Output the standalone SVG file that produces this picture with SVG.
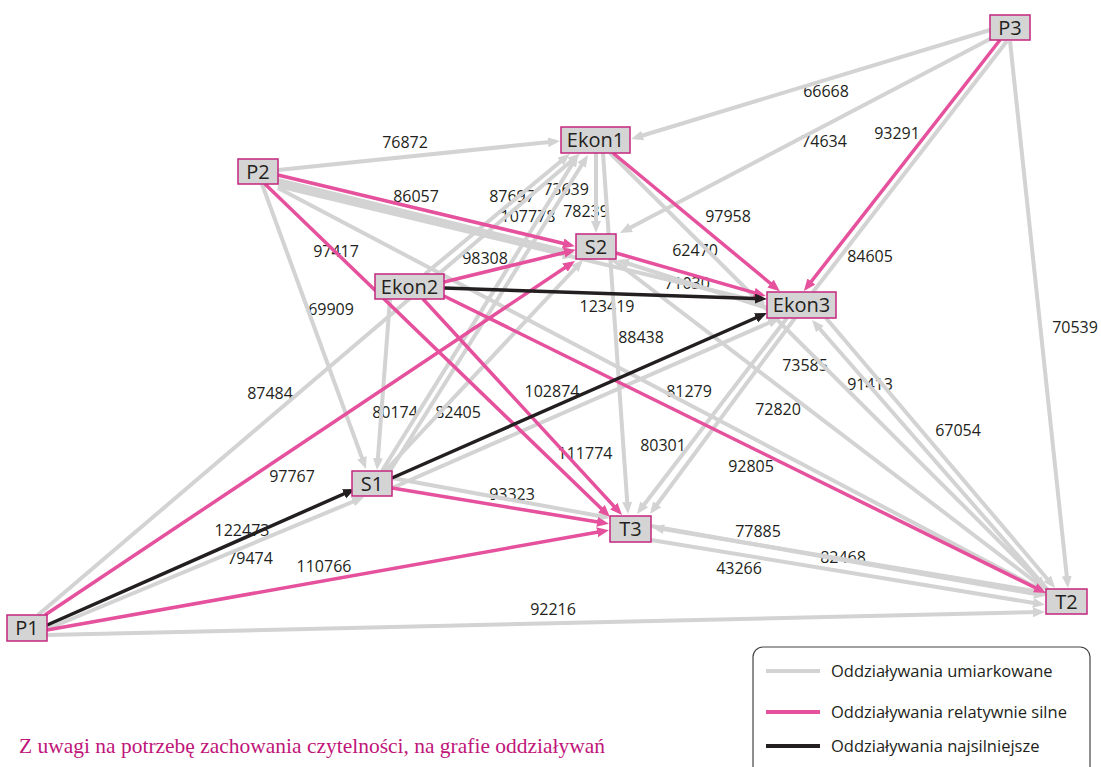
<svg xmlns="http://www.w3.org/2000/svg" width="1101" height="767" viewBox="0 0 1101 767">
<style>
.g{stroke:#d3d3d3;stroke-width:4;fill:none;marker-end:url(#ag)}
.p{stroke:#e5519c;stroke-width:3.5;fill:none;marker-end:url(#ap)}
.b{stroke:#231f20;stroke-width:3.5;fill:none;marker-end:url(#ab)}
.lbl{font-family:"Open Sans","Liberation Sans",sans-serif;font-size:16px;fill:#231f20;text-anchor:middle}
.node rect{fill:#d4d4d4;stroke:#c4267f;stroke-width:1.5}
.node text{font-family:"Open Sans","Liberation Sans",sans-serif;font-size:20px;fill:#231f20;text-anchor:middle}
.leg{font-family:"Open Sans","Liberation Sans",sans-serif;font-size:16.5px;fill:#231f20}
</style>
<defs>
<marker id="ag" markerUnits="userSpaceOnUse" markerWidth="13" markerHeight="11" refX="7" refY="5" orient="auto"><path d="M0,0 L12,5 L0,10 z" fill="#d3d3d3"/></marker>
<marker id="ap" markerUnits="userSpaceOnUse" markerWidth="13" markerHeight="11" refX="7" refY="5" orient="auto"><path d="M0,0 L12,5 L0,10 z" fill="#e5519c"/></marker>
<marker id="ab" markerUnits="userSpaceOnUse" markerWidth="13" markerHeight="11" refX="7" refY="5" orient="auto"><path d="M0,0 L12,5 L0,10 z" fill="#231f20"/></marker>
</defs>
<rect width="1101" height="767" fill="#fff"/>
<g id="labels">
<text class="lbl" x="826" y="97">66668</text>
<text class="lbl" x="824" y="147">74634</text>
<text class="lbl" x="897" y="139">93291</text>
<text class="lbl" x="870" y="262">84605</text>
<text class="lbl" x="1075" y="333">70539</text>
<text class="lbl" x="405" y="148">76872</text>
<text class="lbl" x="416" y="202">86057</text>
<text class="lbl" x="336" y="257">97417</text>
<text class="lbl" x="331" y="315">69909</text>
<text class="lbl" x="512" y="202">87697</text>
<text class="lbl" x="566" y="195">73639</text>
<text class="lbl" x="528" y="222">107778</text>
<text class="lbl" x="586" y="217">78239</text>
<text class="lbl" x="728" y="222">97958</text>
<text class="lbl" x="695" y="256">62470</text>
<text class="lbl" x="485" y="264">98308</text>
<text class="lbl" x="687" y="289">71030</text>
<text class="lbl" x="607" y="312">123419</text>
<text class="lbl" x="641" y="343">88438</text>
<text class="lbl" x="270" y="399">87484</text>
<text class="lbl" x="395" y="418">80174</text>
<text class="lbl" x="458" y="418">82405</text>
<text class="lbl" x="552" y="397">102874</text>
<text class="lbl" x="689" y="397">81279</text>
<text class="lbl" x="805" y="371">73585</text>
<text class="lbl" x="778" y="415">72820</text>
<text class="lbl" x="870" y="390">91413</text>
<text class="lbl" x="958" y="436">67054</text>
<text class="lbl" x="585" y="459">111774</text>
<text class="lbl" x="663" y="451">80301</text>
<text class="lbl" x="751" y="472">92805</text>
<text class="lbl" x="292" y="482">97767</text>
<text class="lbl" x="512" y="500">93323</text>
<text class="lbl" x="242" y="536">122473</text>
<text class="lbl" x="250" y="564">79474</text>
<text class="lbl" x="324" y="572">110766</text>
<text class="lbl" x="758" y="537">77885</text>
<text class="lbl" x="843" y="563">82468</text>
<text class="lbl" x="739" y="574">43266</text>
<text class="lbl" x="553" y="615">92216</text>
</g>
<g id="connectors">
<path class="g" d="M990,30 L636,137.5"/>
<path class="g" d="M992,38 L624.4,230.7"/>
<path class="g" d="M1007,41 L813,292" style="marker-end:none"/>
<path class="g" d="M1010,41 L1067.5,583"/>
<path class="g" d="M278,170 L555,141.5"/>
<path class="g" d="M278,180 L570,252"/>
<path class="g" d="M278,183 L570,256"/>
<path class="g" d="M278,186 L761,302"/>
<path class="g" d="M278,188 L1040.6,589.7"/>
<path class="g" d="M262,184 L364.3,464.3"/>
<path class="g" d="M596,153 L596,228"/>
<path class="g" d="M603,153 L627.7,509"/>
<path class="g" d="M610,153 L1042.5,584.5"/>
<path class="g" d="M425,274 L566,157"/>
<path class="g" d="M38,615 L576,157"/>
<path class="g" d="M382,471 L575.5,159"/>
<path class="g" d="M390,471 L585.3,159.2"/>
<path class="g" d="M767,308 L621.8,261.5"/>
<path class="g" d="M390,299 L377.4,465"/>
<path class="g" d="M385,471 L579.6,263.6"/>
<path class="g" d="M392,488 L775.4,320"/>
<path class="g" d="M787,318 L640,510"/>
<path class="g" d="M795,318 L653,510"/>
<path class="g" d="M1048,590 L815.3,323.8"/>
<path class="g" d="M826,318 L1051.8,584.2"/>
<path class="g" d="M612,259 L1042,587"/>
<path class="g" d="M45,630 L359.4,499"/>
<path class="g" d="M47,635 L1040,612"/>
<path class="g" d="M392,478 L605,517"/>
<path class="g" d="M651,526 L1041,595"/>
<path class="g" d="M1046,593 L657,528"/>
<path class="g" d="M651,540 L1040,604"/>
<path class="p" d="M1000,40 L807,287"/>
<path class="p" d="M278,175 L570,245"/>
<path class="p" d="M265,184 L606.4,513.5"/>
<path class="p" d="M613,153 L776,288"/>
<path class="p" d="M616,253 L761,294.6"/>
<path class="p" d="M444,282 L571,251"/>
<path class="p" d="M423,299 L618.6,511.3"/>
<path class="p" d="M444,296 L1041.5,590.8"/>
<path class="p" d="M45,615 L570.8,263.8"/>
<path class="p" d="M47,630 L604,531"/>
<path class="p" d="M392,488 L604,523"/>
<path class="b" d="M444,288 L762,298.8"/>
<path class="b" d="M392,478 L762.4,315"/>
<path class="b" d="M45,626 L350.4,491"/>
</g>
<g id="P3" class="node"><rect x="990" y="15" width="40" height="25"/><text x="1010" y="35">P3</text></g>
<g id="Ekon1" class="node"><rect x="561" y="127" width="69" height="26"/><text x="595.5" y="147">Ekon1</text></g>
<g id="P2" class="node"><rect x="238" y="159" width="40" height="25"/><text x="258" y="179">P2</text></g>
<g id="S2" class="node"><rect x="576" y="234" width="40" height="25"/><text x="596" y="254">S2</text></g>
<g id="Ekon2" class="node"><rect x="375" y="274" width="69" height="25"/><text x="409.5" y="294">Ekon2</text></g>
<g id="Ekon3" class="node"><rect x="767" y="292" width="69" height="26"/><text x="801.5" y="312">Ekon3</text></g>
<g id="S1" class="node"><rect x="352" y="471" width="40" height="25"/><text x="372" y="491">S1</text></g>
<g id="T3" class="node"><rect x="610" y="516" width="41" height="26"/><text x="630.5" y="536">T3</text></g>
<g id="P1" class="node"><rect x="7" y="615" width="40" height="26"/><text x="27" y="635">P1</text></g>
<g id="T2" class="node"><rect x="1046" y="589" width="41" height="25"/><text x="1066.5" y="609">T2</text></g>
<g id="legend">
<rect x="753" y="647" width="337" height="140" rx="10" fill="#fff" stroke="#444" stroke-width="1.2"/>
<line x1="766" y1="671" x2="820" y2="671" stroke="#d3d3d3" stroke-width="4"/>
<line x1="766" y1="712" x2="820" y2="712" stroke="#e5519c" stroke-width="4"/>
<line x1="766" y1="746" x2="820" y2="746" stroke="#231f20" stroke-width="4"/>
<text class="leg" x="831" y="677">Oddziaływania umiarkowane</text>
<text class="leg" x="831" y="718">Oddziaływania relatywnie silne</text>
<text class="leg" x="831" y="752">Oddziaływania najsilniejsze</text>
</g>
<text x="19" y="753" font-family="'Liberation Serif',serif" font-size="21" textLength="586" lengthAdjust="spacingAndGlyphs" fill="#c0157a">Z uwagi na potrzebę zachowania czytelności, na grafie oddziaływań</text>
</svg>
